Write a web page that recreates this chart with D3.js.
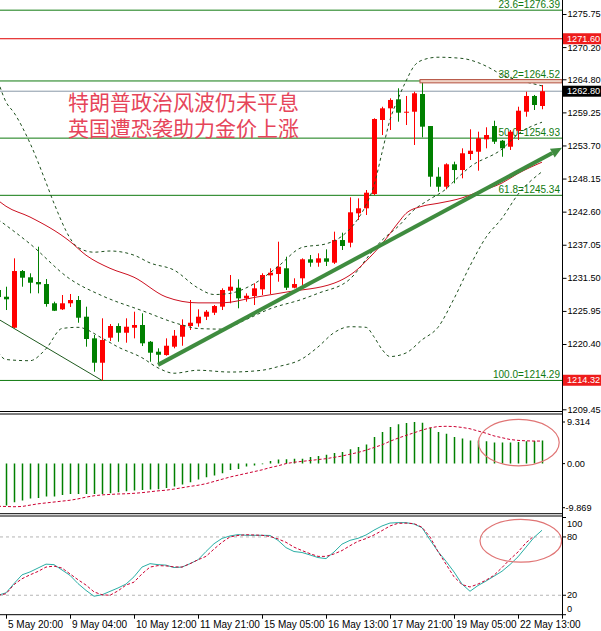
<!DOCTYPE html>
<html>
<head>
<meta charset="utf-8">
<title>XAUUSD H4</title>
<script src="https://d3js.org/d3.v7.min.js"></script>
<style>
  body { margin: 0; background: #fff; }
  svg { display: block; font-family: "Liberation Sans", Arial, sans-serif; }
</style>
</head>
<body>
<script>
// candles, first one (bar -1) is cut by the left edge
const firstBar = -1;
const opens  = [1229.46,1228.33,1223.13,1232.64,1231.59,1230.80,1230.46,1227.23,1226.22,1227.23,1227.78,1224.98,1221.35,1217.26,1221.46,1223.42,1222.29,1223.13,1223.59,1220.78,1219.11,1218.55,1219.95,1221.62,1223.42,1223.87,1224.98,1225.65,1226.66,1229.34,1229.84,1228.06,1228.45,1229.57,1231.92,1232.14,1233.10,1229.84,1231.42,1234.61,1234.04,1234.77,1234.04,1237.84,1237.39,1242.32,1243.16,1245.56,1257.97,1259.93,1261.44,1259.20,1259.36,1262.33,1256.96,1248.46,1246.78,1250.54,1249.58,1252.27,1252.65,1254.73,1256.96,1254.50,1253.49,1256.18,1259.36,1262.00,1260.32];
const highs  = [1230.30,1230.01,1234.77,1232.81,1232.26,1236.72,1231.30,1227.50,1228.62,1228.79,1228.45,1226.66,1221.91,1224.71,1223.75,1223.87,1224.71,1225.82,1225.55,1220.90,1219.68,1221.35,1222.75,1224.54,1227.78,1226.22,1226.10,1226.94,1229.74,1231.97,1231.25,1228.90,1230.58,1232.26,1233.10,1237.56,1235.04,1231.42,1234.77,1235.33,1235.61,1236.28,1239.24,1239.07,1245.00,1244.83,1246.23,1258.26,1260.20,1261.61,1263.29,1262.00,1262.72,1264.60,1256.96,1250.04,1250.71,1250.98,1253.22,1256.41,1256.01,1256.75,1257.85,1254.62,1256.29,1260.20,1262.72,1262.17,1263.84];
const lows   = [1227.78,1226.10,1223.03,1230.01,1228.90,1228.90,1226.66,1225.93,1226.10,1226.61,1223.97,1219.95,1215.75,1214.29,1220.90,1220.78,1220.62,1221.35,1220.06,1217.43,1216.88,1218.44,1219.68,1220.11,1222.75,1223.30,1224.42,1225.26,1226.10,1227.23,1226.39,1227.50,1226.94,1228.62,1228.79,1230.85,1229.46,1229.74,1230.30,1233.36,1233.36,1233.48,1233.82,1236.17,1236.62,1241.20,1242.04,1245.39,1255.45,1256.29,1257.69,1257.13,1253.78,1255.07,1246.78,1245.94,1246.35,1247.35,1248.19,1251.26,1249.47,1253.22,1253.95,1251.81,1252.94,1254.62,1258.52,1259.65,1259.77];
const closes = [1228.28,1227.90,1232.64,1231.52,1230.68,1230.41,1227.11,1225.98,1227.23,1227.78,1224.81,1221.24,1217.26,1221.07,1223.42,1222.29,1223.30,1223.59,1220.52,1218.94,1218.60,1220.11,1221.79,1223.59,1223.97,1224.98,1225.82,1226.77,1229.46,1230.01,1228.06,1228.50,1229.74,1231.97,1232.36,1233.36,1229.84,1230.46,1234.61,1234.04,1234.77,1234.20,1237.84,1236.84,1242.49,1243.16,1245.78,1258.14,1259.93,1261.33,1259.20,1259.36,1262.45,1256.85,1248.46,1246.78,1250.54,1249.58,1252.39,1252.82,1254.90,1255.45,1254.33,1253.22,1256.01,1259.53,1262.00,1260.49,1262.80];

// bollinger bands and moving average, [bar, price]
const bandUpper = [[-1,1264.5],[0,1261.0],[1,1259.2],[3,1254.1],[5,1247.5],[6,1244.0],[9,1236.6],[11,1235.8],[13,1236.0],[16,1235.3],[18,1234.0],[21,1232.8],[24,1229.8],[26,1228.7],[28,1228.9],[31,1230.5],[34,1233.4],[37,1236.6],[40,1237.2],[42,1238.5],[44,1241.4],[45,1243.7],[46,1247.0],[47,1252.5],[48,1258.0],[49,1261.5],[50,1264.5],[51,1267.0],[52,1268.0],[54,1268.5],[57,1268.3],[59,1267.6],[61,1266.3],[62,1265.5],[64,1264.7],[67,1263.7]];
const bandMid   = [[-1,1241.3],[3,1237.2],[8,1231.3],[12,1228.5],[17,1226.0],[22,1223.6],[24,1223.0],[27,1222.9],[30,1224.5],[33,1226.3],[37,1227.9],[39,1228.9],[43,1231.3],[44,1232.8],[45,1234.6],[47,1237.8],[49,1240.1],[51,1242.9],[53,1244.7],[55,1246.4],[56,1247.7],[58,1250.1],[62,1253.1],[64,1255.6],[67,1257.6]];
const bandLower = [[-1,1219.0],[0,1217.8],[3,1217.6],[5,1219.6],[7,1223.0],[9,1223.2],[12,1221.4],[14,1219.9],[17,1218.1],[19,1216.4],[21,1215.5],[24,1216.0],[28,1215.7],[32,1216.0],[34,1216.6],[37,1217.9],[39,1219.9],[41,1222.3],[43,1223.3],[45,1223.2],[46,1221.6],[47,1219.5],[48,1218.3],[50,1218.9],[52,1221.1],[54,1223.2],[56,1228.0],[58,1233.5],[60,1238.3],[62,1241.5],[64,1245.5],[67,1249.3]];
const maLine    = [[-1,1244.5],[0,1243.5],[3,1241.7],[8,1237.6],[10,1235.3],[13,1233.1],[16,1231.6],[20,1228.3],[24,1227.3],[27,1227.3],[31,1228.2],[35,1229.1],[41,1230.6],[44,1233.0],[45,1234.3],[47,1237.2],[49,1240.7],[50,1242.3],[52,1243.5],[54,1244.0],[57,1244.9],[59,1245.9],[62,1247.4],[64,1249.0],[67,1250.9]];

// drawn objects
const fibRatios = ["23.6", "38.2", "50.0", "61.8", "100.0"];
const fibValues = [1276.39, 1264.52, 1254.93, 1245.34, 1214.29];
const redLevel = 1271.60;
const lowTag = 1214.32;
const downLine = [[-1, 1224.6], [12, 1214.29]];
const upArrow = [[19, 1216.9], [69.5, 1253.3]];
const highBox = { from: 51.75, top: 1264.75, bottom: 1264.2 };

// MACD
const macdHist = [-9.8,-9.40,-8.66,-8.28,-7.83,-7.68,-7.38,-7.38,-7.01,-6.78,-6.78,-6.78,-6.78,-6.78,-6.64,-6.42,-6.19,-6.04,-5.89,-5.82,-5.74,-5.44,-5.15,-4.70,-4.18,-3.58,-3.06,-2.68,-2.16,-1.42,-1.19,-0.67,-0.45,-0.15,0.6,0.9,0.96,1.1,1.1,1.48,1.7,2.0,2.37,2.6,3.2,3.7,4.3,5.95,7.07,8.2,8.8,9.1,9.31,9.17,8.05,7.07,6.7,5.95,5.6,5.2,5.2,5.0,4.7,4.7,4.7,4.83,5.0,5.05,5.2];
const macdSignal = [-9.55,-9.6,-9.65,-9.6,-9.3,-9.0,-8.8,-8.6,-8.4,-8.2,-7.9,-7.5,-7.2,-7.0,-6.9,-6.8,-6.75,-6.65,-6.5,-6.3,-6.1,-5.95,-5.7,-5.4,-5.1,-4.85,-4.5,-4.0,-3.5,-3.0,-2.6,-2.2,-1.8,-1.4,-0.9,-0.5,0.0,0.3,0.5,0.7,0.9,1.1,1.4,1.7,2.1,2.5,3.0,3.6,4.2,5.0,5.7,6.3,6.9,7.5,8.0,8.3,8.35,8.3,8.1,7.8,7.3,6.8,6.2,5.8,5.4,5.2,5.1,5.05,5.05];
const macdTicks = [9.314, 0, -9.869];

// stochastic
const stochK = [20,22.5,32,41,44,48,52,51.5,46,40.5,32,25,19,20.5,24,27.5,31.5,39,49,52.5,51.5,51,48.5,49,52.5,56.5,65,73,78.5,81,82.4,81.7,81.7,81.7,81.5,76.5,69,65,64,61.5,58.8,57.7,64.5,72.6,76.5,78.6,82,87,91.3,94.3,94.7,94.7,93.3,89.5,77,65,55,44,31.5,24.1,30,34.6,39.6,44.7,51.6,59.5,69.5,79.5,86.9];
const stochD = [20,21.5,31,37,41,44.5,49,50,48,42,36,30.5,23.5,20.5,20,24.5,30.5,33.5,42,49,50.5,50.2,49.2,49,52.5,56.5,60,67.5,74.5,80,81.5,82.3,82,81.7,80.5,78,74.5,69.5,66,62.8,60,60,62.5,66,71,75.5,78.3,82,86.5,91.3,94,94.2,93.7,90,80,65,52,39,31,28.5,31.5,35.5,40.5,48.5,57,64.5,74,81];
const stochLevels = [80, 20];
const stochTicks = [100, 80, 20, 0];

// axes
const priceTicks = [1275.75, 1270.20, 1264.80, 1259.25, 1253.70, 1248.15, 1242.60, 1237.05, 1231.50, 1225.95, 1220.40, 1209.45];
const timeBars = [0, 8, 16, 24, 32, 40, 48, 56, 64];
const timeLabels = ["5 May 20:00", "9 May 04:00", "10 May 12:00", "11 May 21:00", "15 May 05:00", "16 May 13:00", "17 May 21:00", "19 May 05:00", "22 May 13:00"];

const headline = ["特朗普政治风波仍未平息", "英国遭恐袭助力金价上涨"];

const width = 601, height = 631;
const axisX = 562;
const mainBottom = 411.5, macdTop = 414, macdBottom = 513.7, stochTop = 516, stochBottom = 614.7;
const axisFont = "9.2px";

const x = d3.scaleLinear().domain([-1, 67]).range([-2, 542]);
const y = d3.scaleLinear().domain([1209.45, 1275.75]).range([409.3, 14]);
const yM = d3.scaleLinear().domain([-9.869, 9.314]).range([507.7, 422]);
const yS = d3.scaleLinear().domain([0, 100]).range([stochBottom, 517.5]);

const upCol = "#ff0000", downCol = "#008000";
const fibCol = "#0f7a0f", bandCol = "#1d4f1d", sigCol = "#cc0033";

const svg = d3.select("body").append("svg")
    .attr("width", width).attr("height", height)
    .style("background", "#fff");

const defs = svg.append("defs");
function clip(id, y0, y1) {
    defs.append("clipPath").attr("id", id)
        .append("rect").attr("x", 0).attr("y", y0).attr("width", axisX).attr("height", y1 - y0);
}
clip("cMain", 0, mainBottom);
clip("cMacd", macdTop, macdBottom);
clip("cStoch", stochTop, stochBottom);

const bars = opens.map((o, k) => ({ bar: firstBar + k, o: o, h: highs[k], l: lows[k], c: closes[k] }));

// ---------- main chart ----------
const main = svg.append("g").attr("clip-path", "url(#cMain)");

// current price line
main.append("line")
    .attr("x1", 0).attr("x2", axisX)
    .attr("y1", y(closes[closes.length - 1])).attr("y2", y(closes[closes.length - 1]))
    .attr("stroke", "#8898a8").attr("stroke-width", 1);

// red level
main.append("line")
    .attr("x1", 0).attr("x2", axisX).attr("y1", y(redLevel)).attr("y2", y(redLevel))
    .attr("stroke", "#e00000").attr("stroke-width", 1);

// fibonacci levels
fibValues.forEach((v, i) => {
    main.append("line")
        .attr("x1", 0).attr("x2", axisX).attr("y1", y(v)).attr("y2", y(v))
        .attr("stroke", fibCol).attr("stroke-width", 1);
    main.append("text")
        .attr("x", 560).attr("y", y(v) - 2.5)
        .attr("text-anchor", "end")
        .style("font-size", "10px")
        .attr("fill", fibCol)
        .text(fibRatios[i] + "=" + v.toFixed(2));
});

// headline
headline.forEach((t, i) => {
    main.append("text")
        .attr("x", 68).attr("y", 110 + i * 26)
        .style("font-family", "'Noto Sans CJK SC', sans-serif")
        .style("font-size", "21px")
        .attr("fill", "#e6455a")
        .text(t);
});

// candles
const cg = main.append("g");
cg.selectAll("line.wick").data(bars).join("line")
    .attr("class", "wick")
    .attr("x1", d => x(d.bar) + 0.5).attr("x2", d => x(d.bar) + 0.5)
    .attr("y1", d => y(d.h)).attr("y2", d => y(d.l))
    .attr("stroke", d => d.c >= d.o ? upCol : downCol).attr("stroke-width", 1);
cg.selectAll("rect").data(bars).join("rect")
    .attr("x", d => x(d.bar) - 2)
    .attr("width", 5)
    .attr("y", d => y(Math.max(d.o, d.c)))
    .attr("height", d => Math.max(1, Math.abs(y(d.o) - y(d.c))))
    .attr("fill", d => d.c >= d.o ? upCol : downCol);

// bands and MA
const keyLine = d3.line().x(d => x(d[0])).y(d => y(d[1])).curve(d3.curveMonotoneX);
[bandUpper, bandMid, bandLower].forEach(b => {
    main.append("path").attr("d", keyLine(b))
        .attr("fill", "none").attr("stroke", bandCol).attr("stroke-width", 1)
        .attr("stroke-dasharray", "3,3");
});
main.append("path").attr("d", keyLine(maLine))
    .attr("fill", "none").attr("stroke", "#cc1020").attr("stroke-width", 1);

// trend lines
main.append("line")
    .attr("x1", x(downLine[0][0])).attr("y1", y(downLine[0][1]))
    .attr("x2", x(downLine[1][0])).attr("y2", y(downLine[1][1]))
    .attr("stroke", "#1e5a1e").attr("stroke-width", 1);

const ax1 = x(upArrow[0][0]), ay1 = y(upArrow[0][1]);
const ax2 = x(upArrow[1][0]), ay2 = y(upArrow[1][1]);
const ang = Math.atan2(ay2 - ay1, ax2 - ax1);
const headLen = 11, headW = 5;
const bx = ax2 - headLen * Math.cos(ang), by = ay2 - headLen * Math.sin(ang);
main.append("line")
    .attr("x1", ax1).attr("y1", ay1).attr("x2", bx).attr("y2", by)
    .attr("stroke", "#3f8c3f").attr("stroke-width", 4);
main.append("path")
    .attr("d", `M${ax2},${ay2}L${bx - headW * Math.sin(ang)},${by + headW * Math.cos(ang)}L${bx + headW * Math.sin(ang)},${by - headW * Math.cos(ang)}Z`)
    .attr("fill", "#3f8c3f");

// high box
main.append("rect")
    .attr("x", x(highBox.from)).attr("y", y(highBox.top))
    .attr("width", axisX - x(highBox.from)).attr("height", y(highBox.bottom) - y(highBox.top))
    .attr("fill", "#efd2c4").attr("stroke", "#b4503f").attr("stroke-width", 1);

// ---------- MACD ----------
const macd = svg.append("g").attr("clip-path", "url(#cMacd)");
macd.selectAll("line").data(macdHist).join("line")
    .attr("x1", (d, k) => x(firstBar + k) + 0.5).attr("x2", (d, k) => x(firstBar + k) + 0.5)
    .attr("y1", yM(0)).attr("y2", d => yM(d))
    .attr("stroke", downCol).attr("stroke-width", 1.5);
macd.append("path")
    .attr("d", d3.line().x((d, k) => x(firstBar + k)).y(d => yM(d))(macdSignal))
    .attr("fill", "none").attr("stroke", sigCol).attr("stroke-width", 1)
    .attr("stroke-dasharray", "3,2");
macd.append("ellipse")
    .attr("cx", x(64.1)).attr("cy", yM(4.7))
    .attr("rx", x(64.1) - x(59.05)).attr("ry", yM(0) - yM(5.2))
    .attr("fill", "none").attr("stroke", "#e07575").attr("stroke-width", 1.2);

// ---------- Stochastic ----------
const st = svg.append("g").attr("clip-path", "url(#cStoch)");
stochLevels.forEach(v => {
    st.append("line").attr("x1", 0).attr("x2", axisX).attr("y1", yS(v)).attr("y2", yS(v))
        .attr("stroke", "#b5b5b5").attr("stroke-dasharray", "3,3");
});
const sLine = d3.line().x((d, k) => x(firstBar + k)).y(d => yS(d));
st.append("path").attr("d", sLine(stochK))
    .attr("fill", "none").attr("stroke", "#2aaea5").attr("stroke-width", 1);
st.append("path").attr("d", sLine(stochD))
    .attr("fill", "none").attr("stroke", sigCol).attr("stroke-width", 1)
    .attr("stroke-dasharray", "3,2");
st.append("ellipse")
    .attr("cx", x(64.35)).attr("cy", yS(76))
    .attr("rx", x(64.35) - x(59.25)).attr("ry", yS(0) - yS(22))
    .attr("fill", "none").attr("stroke", "#e07575").attr("stroke-width", 1.2);

// ---------- frames ----------
[mainBottom, macdTop, macdBottom, stochTop, stochBottom].forEach(v => {
    svg.append("line").attr("x1", 0).attr("x2", axisX).attr("y1", v).attr("y2", v)
        .attr("stroke", "#000").attr("stroke-width", 1);
});
svg.append("line").attr("x1", axisX + 0.5).attr("x2", axisX + 0.5).attr("y1", 0).attr("y2", stochBottom + 4)
    .attr("stroke", "#000").attr("stroke-width", 1);

// ---------- axes ----------
const priceAxis = svg.append("g")
    .attr("transform", `translate(${axisX + 0.5},0)`)
    .call(d3.axisRight(y).tickValues(priceTicks).tickSize(4).tickPadding(1).tickFormat(d3.format(".2f")));
priceAxis.select(".domain").remove();
priceAxis.selectAll("text").style("font-size", axisFont).attr("fill", "#000").attr("font-family", null);

// price tags
function tag(v, bg) {
    svg.append("rect").attr("x", axisX + 1).attr("y", y(v) - 5.5).attr("width", width - axisX).attr("height", 11).attr("fill", bg);
    svg.append("text").attr("x", axisX + 5).attr("y", y(v)).attr("dy", "0.35em")
        .style("font-size", axisFont).attr("fill", "#fff").text(v.toFixed(2));
}
tag(redLevel, "#ee1c1c");
tag(closes[closes.length - 1], "#000");
tag(lowTag, "#ee1c1c");

// MACD labels
macdTicks.forEach(v => {
    const yy = yM(v);
    svg.append("line").attr("x1", axisX).attr("x2", axisX + 3).attr("y1", yy).attr("y2", yy).attr("stroke", "#000");
    svg.append("text").attr("x", v < 0 ? axisX + 3.5 : axisX + 5).attr("y", yy).attr("dy", "0.35em")
        .style("font-size", axisFont).text(v === 0 ? "0.00" : v.toFixed(3));
});

// stochastic labels
stochTicks.forEach(v => {
    const yy = Math.max(523.5, Math.min(608.5, yS(v)));
    svg.append("line").attr("x1", axisX).attr("x2", axisX + 4).attr("y1", yS(v)).attr("y2", yS(v)).attr("stroke", "#000");
    svg.append("text").attr("x", axisX + 5).attr("y", yy).attr("dy", "0.35em")
        .style("font-size", axisFont).text(v);
});

// time axis
const timeAxis = svg.append("g")
    .attr("transform", `translate(0,${stochBottom})`)
    .call(d3.axisBottom(x).tickValues(timeBars).tickSize(4).tickPadding(2).tickFormat((d, i) => timeLabels[i]));
timeAxis.select(".domain").remove();
timeAxis.selectAll("text").attr("text-anchor", "start").attr("x", 1.5)
    .style("font-size", "10px").attr("fill", "#000").attr("font-family", null);
</script>
</body>
</html>
